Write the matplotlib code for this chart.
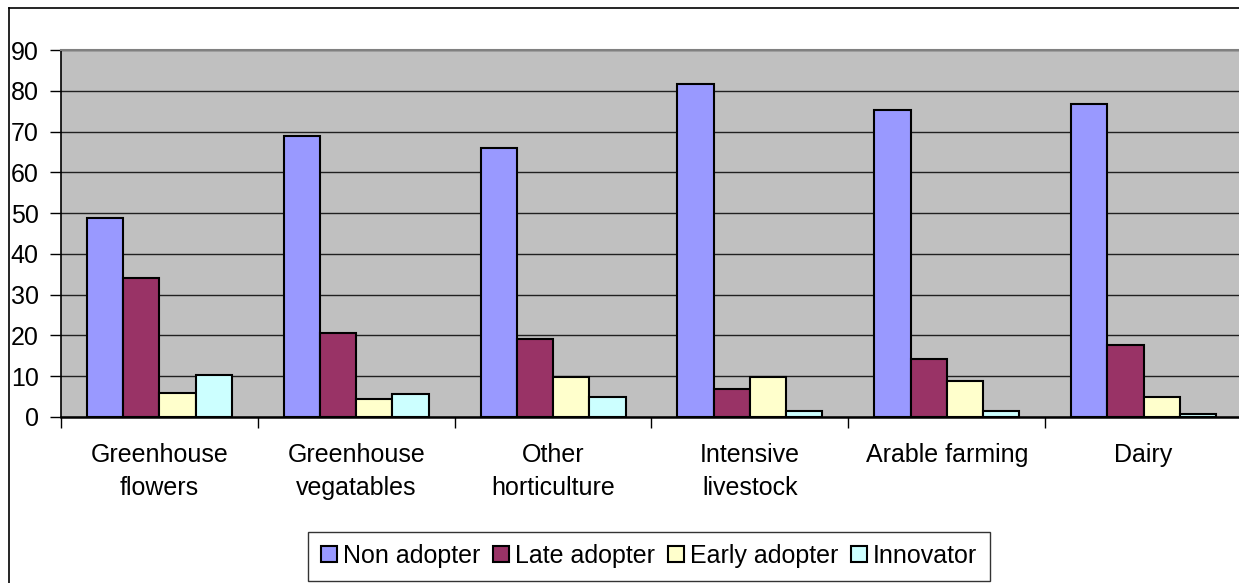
import numpy as np
import matplotlib.pyplot as plt
from matplotlib.lines import Line2D

plt.rcParams['font.family'] = ['Liberation Sans', 'DejaVu Sans']

categories = ["Greenhouse\nflowers", "Greenhouse\nvegatables", "Other\nhorticulture",
              "Intensive\nlivestock", "Arable farming", "Dairy"]
series_names = ["Non adopter", "Late adopter", "Early adopter", "Innovator"]
non_adopter = [48.8, 68.9, 66.0, 81.7, 75.3, 76.8]
late_adopter = [34.2, 20.5, 19.1, 6.8, 14.2, 17.6]
early_adopter = [5.8, 4.4, 9.7, 9.7, 8.8, 4.8]
innovator = [10.2, 5.7, 4.8, 1.4, 1.4, 0.8]
colors = ["#9999FF", "#993366", "#FFFFCC", "#CCFFFF"]

W, H = 1239, 583
fig = plt.figure(figsize=(W / 100, H / 100), dpi=100)
ax = fig.add_axes([61 / W, 1 - 417 / H, 1181 / W, 367 / H])

x = np.arange(len(categories))
bw = 0.184
for i, (vals, name, c) in enumerate(zip([non_adopter, late_adopter, early_adopter, innovator],
                                         series_names, colors)):
    ax.bar(x + (i - 1.5) * bw, vals, bw, color=c, edgecolor="black", linewidth=1.5,
           label=name, zorder=3)

ax.set_facecolor("#C0C0C0")
ax.set_ylim(0, 90)
ax.set_xlim(-0.5, len(categories) - 0.5)
ax.set_yticks(range(0, 91, 10))
ax.yaxis.grid(True, color="#202020", linewidth=1.0, zorder=0)
ax.set_axisbelow(True)

ax.spines["right"].set_visible(False)
ax.spines["top"].set_color("#808080")
ax.spines["top"].set_linewidth(1.5)
ax.spines["left"].set_linewidth(1.2)
ax.spines["bottom"].set_linewidth(1.8)

ax.set_xticks(x)
ax.set_xticklabels(categories, fontsize=18, linespacing=1.45)
ax.tick_params(axis="x", which="major", length=0, pad=19)
ax.set_xticks(np.arange(-0.5, len(categories), 1), minor=True)
ax.tick_params(axis="x", which="minor", length=8, width=1, direction="out")
ax.tick_params(axis="y", length=8, width=1, direction="out", labelsize=18, pad=8)

leg = ax.legend(loc="center", bbox_to_anchor=(649 / W, 1 - 556 / H),
                bbox_transform=fig.transFigure, ncol=4, fontsize=18,
                frameon=True, fancybox=False, edgecolor="black",
                handlelength=0.64, handleheight=0.64, handletextpad=0.25,
                columnspacing=0.5, borderpad=0.5, borderaxespad=0)
leg.get_frame().set_linewidth(1.0)
for h in leg.legend_handles:
    h.set_linewidth(1.5)

# outer chart border (left and top visible)
fig.add_artist(Line2D([9 / W, 9 / W], [0, 1 - 8 / H], color="black", linewidth=1.2,
                      transform=fig.transFigure))
fig.add_artist(Line2D([9 / W, 1], [1 - 8 / H, 1 - 8 / H], color="black", linewidth=1.2,
                      transform=fig.transFigure))

plt.savefig("out.png", dpi=100)
